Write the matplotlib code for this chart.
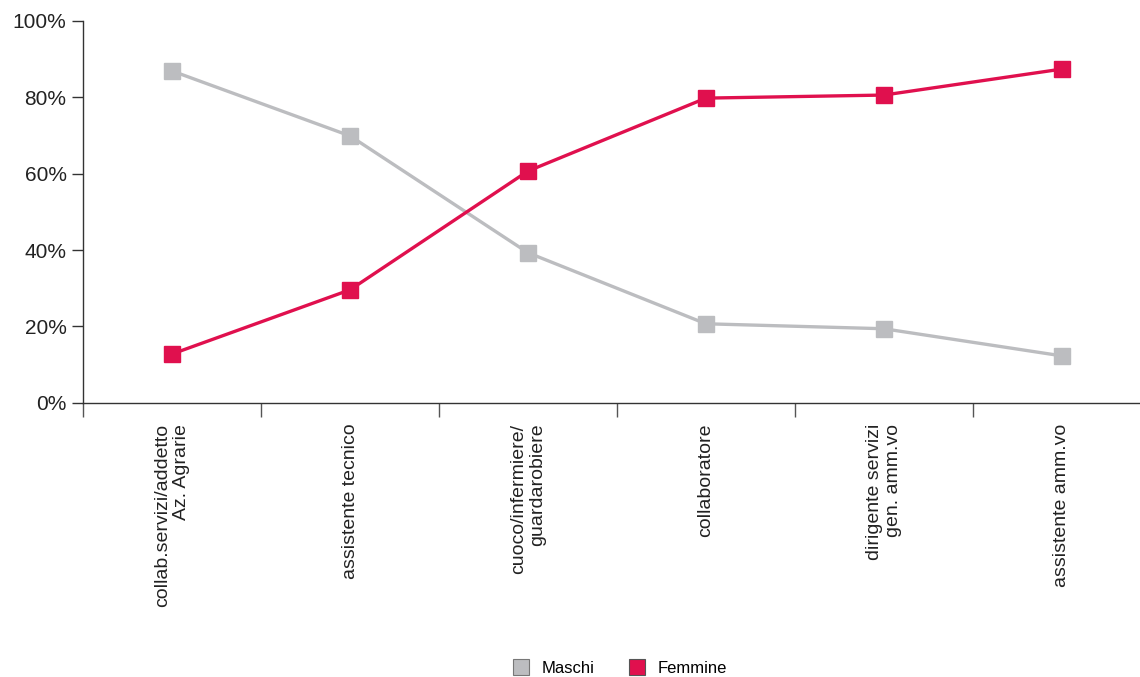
import matplotlib.pyplot as plt
from matplotlib.lines import Line2D
from matplotlib.ticker import FixedLocator, PercentFormatter

# categories and values (percent)
categories = ['collab.servizi/addetto\nAz. Agrarie',
              'assistente tecnico',
              'cuoco/infermiere/\nguardarobiere',
              'collaboratore',
              'dirigente servizi\ngen. amm.vo',
              'assistente amm.vo']
maschi = [86.9, 69.9, 39.3, 20.7, 19.4, 12.3]
femmine = [12.8, 29.6, 60.7, 79.8, 80.6, 87.4]

grey = '#bcbdc0'
red = '#e0104e'
axis_col = '#333333'

plt.rcParams['font.family'] = ['Liberation Sans', 'DejaVu Sans']

fig = plt.figure(figsize=(11.4, 6.77), dpi=100)
ax = fig.add_axes([0.073, 0.405, 0.927, 0.564])

x = range(len(categories))
ax.plot(x, maschi, color=grey, lw=2.4, marker='s', ms=11.5, zorder=3)
ax.plot(x, femmine, color=red, lw=2.4, marker='s', ms=11.5, zorder=4)

ax.set_ylim(0, 100)
ax.set_xlim(-0.5, 5.44)
ax.set_yticks([0, 20, 40, 60, 80, 100])
ax.yaxis.set_major_formatter(PercentFormatter(decimals=0))

ax.set_xticks(list(x))
ax.set_xticklabels(categories, rotation=90, fontsize=14, color='#222222',
                   ha='center', va='top', multialignment='right')
ax.xaxis.set_minor_locator(FixedLocator([i - 0.5 for i in range(7)]))
ax.tick_params(axis='x', which='major', length=0, pad=15)
ax.tick_params(axis='x', which='minor', length=10, width=1, color='#555555')
ax.tick_params(axis='y', length=8, width=1, color=axis_col, labelsize=15,
               labelcolor='#222222', pad=4)

for side in ['top', 'right']:
    ax.spines[side].set_visible(False)
for side in ['left', 'bottom']:
    ax.spines[side].set_color(axis_col)
    ax.spines[side].set_linewidth(1)

handles = [Line2D([], [], ls='none', marker='s', ms=11, mfc=grey, mec='#777777', mew=0.8),
           Line2D([], [], ls='none', marker='s', ms=11, mfc=red, mec='#555555', mew=0.8)]
fig.legend(handles, ['Maschi', 'Femmine'], loc='center', bbox_to_anchor=(0.54, 0.013),
           ncol=2, frameon=False, fontsize=12, handletextpad=0.2, columnspacing=1.6)

fig.savefig('out.png', dpi=100)
